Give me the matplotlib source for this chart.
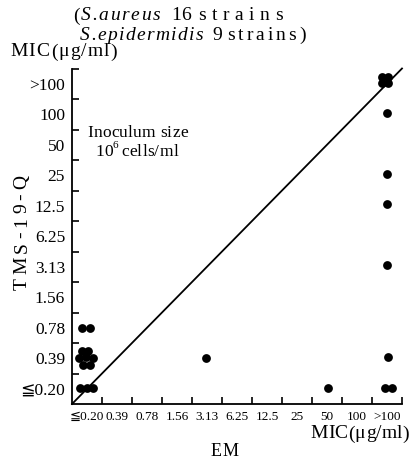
import matplotlib
matplotlib.use('Agg')
import matplotlib.pyplot as plt
import numpy as np

# ---- data ----
levels = ['≦0.20', '0.39', '0.78', '1.56', '3.13', '6.25', '12.5', '25', '50', '100', '>100']
em_mic = ['≦0.20'] * 12 + ['3.13', '50'] + ['>100'] * 11
tms_mic = (['0.78'] * 2 + ['0.39'] * 7 + ['≦0.20'] * 3 +
           ['0.39', '≦0.20'] +
           ['0.39', '≦0.20', '≦0.20', '3.13', '12.5', '25', '100', '>100', '>100', '>100', '>100'])

# jitter so overlapping strains stay visible (in category units)
jx = [-0.17, 0.10,
      -0.17, 0.03, -0.27, -0.03, 0.20, -0.13, 0.10,
      -0.23, 0.00, 0.20,
      -0.03, 0.03,
      0.03, -0.07, 0.17, 0.0, 0.0, 0.0, 0.0, -0.17, 0.03, -0.17, 0.03]
jy = [0.0, 0.0,
      0.24, 0.24, 0.0, 0.04, 0.0, -0.22, -0.22,
      0.02, 0.02, 0.02,
      0.0, 0.02,
      0.04, 0.02, 0.02, 0.06, 0.06, 0.04, 0.04, 0.22, 0.22, 0.02, 0.02]

serif = ['Liberation Serif', 'DejaVu Serif', 'DejaVu Sans']
plt.rcParams['font.family'] = serif

W, H = 411, 458
fig = plt.figure(figsize=(W / 100, H / 100), dpi=100)
ax = fig.add_axes([72 / W, (H - 404) / H, 330 / W, 335.5 / H])

xi = np.array([levels.index(v) for v in em_mic]) + np.array(jx)
yi = np.array([levels.index(v) for v in tms_mic]) + np.array(jy)
ax.scatter(xi, yi, s=40, color='black', zorder=3, linewidths=0)

ax.plot([-0.5, 10.5], [-0.5, 10.5], color='black', lw=1.3, clip_on=False)

ax.set_xlim(-0.5, 10.5)
ax.set_ylim(-0.5, 10.5)
for s in ['top', 'right']:
    ax.spines[s].set_visible(False)
for s in ['left', 'bottom']:
    ax.spines[s].set_linewidth(1.3)

pos = np.arange(len(levels))
ax.set_xticks(pos)
ax.set_xticklabels(levels, fontsize=9.5)
ax.set_yticks(pos)
ax.set_yticklabels(levels, fontsize=12.5)
ax.tick_params(axis='both', which='major', length=0)
ax.tick_params(axis='x', pad=5)
ax.tick_params(axis='y', pad=5)
edges = np.arange(0.5, 11, 1.0)
ax.set_xticks(edges, minor=True)
ax.set_yticks(edges, minor=True)
ax.tick_params(axis='both', which='minor', direction='in', length=5, width=1.2)

renderer = fig.canvas.get_renderer()


def tracked(x0, x1, y, s, vertical=False, **kw):
    """Place string s with letter spacing so it spans about x0..x1 (pixels)."""
    rot = 90 if vertical else 0
    arts, sizes = [], []
    for c in s:
        if c == ' ':
            arts.append(None)
            sizes.append(kw.get('fontsize', 12) * 0.35)
            continue
        t = fig.text(0, 0, c, rotation=rot, **kw)
        bb = t.get_window_extent(renderer)
        arts.append(t)
        sizes.append(bb.height if vertical else bb.width)
    n = len(s)
    gap = (abs(x1 - x0) - sum(sizes)) / max(n - 1, 1)
    gap = max(gap, 0.3)
    if vertical:
        p = max(x0, x1)  # bottom (pixel from top), going up
        for t, w in zip(arts, sizes):
            if t is not None:
                t.set_position((y / W, (H - p) / H))
                t.set_ha('center')
                t.set_va('bottom')
            p -= w + gap
    else:
        p = min(x0, x1)
        for t, w in zip(arts, sizes):
            if t is not None:
                t.set_position((p / W, 1 - y / H))
                t.set_ha('left')
                t.set_va('center')
            p += w + gap


tracked(73, 79, 16, '(', fontsize=14)
tracked(81, 160, 16, 'S.aureus', fontsize=14, style='italic')
tracked(171, 186, 16, '16', fontsize=14)
tracked(198, 283, 16, 'strains', fontsize=14)
tracked(80, 203, 35, 'S.epidermidis', fontsize=14, style='italic')
tracked(212, 221, 35, '9', fontsize=14)
tracked(227, 306, 35, 'strains)', fontsize=14)
tracked(10, 117, 52, 'MIC(μg/ml)', fontsize=14)
tracked(87, 150, 133, 'Inoculum', fontsize=12.5)
tracked(160, 188, 133, 'size', fontsize=12.5)
tracked(95, 110, 152, '10', fontsize=12.5)
fig.text(112 / W, 1 - 146 / H, '6', fontsize=8, va='center', ha='left')
tracked(121, 178, 152, 'cells/ml', fontsize=12.5)
tracked(310, 409, 434, 'MIC(μg/ml)', fontsize=14)
tracked(211, 233, 451, 'EM', fontsize=13)
# vertical axis title: spans from y=290 (bottom) up to y=175 (top)
tracked(175, 290, 22, 'TMS-19-Q', vertical=True, fontsize=14)

fig.savefig('out.png', dpi=100)
